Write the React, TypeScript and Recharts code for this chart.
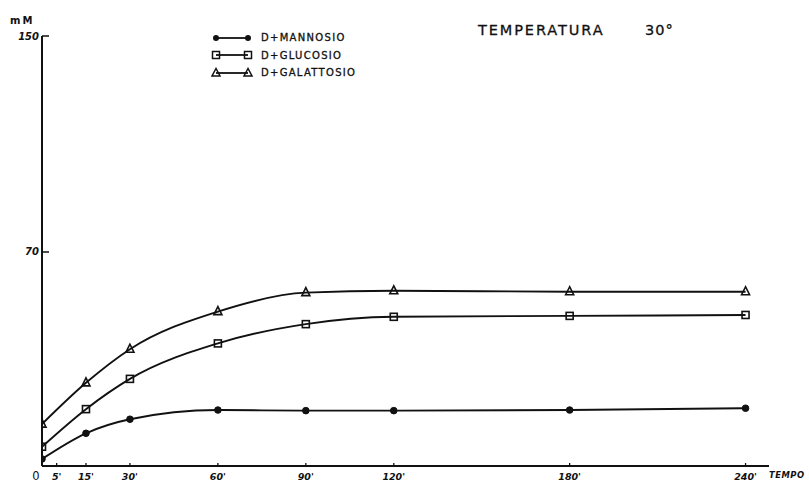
import React from 'react';
import { LineChart, Line, XAxis, YAxis } from 'recharts';

// ---- data (minutes vs mM) ----
const minutes = [0, 15, 30, 60, 90, 120, 180, 240];
const mannosio = [2.3, 10.7, 15.3, 18.3, 18.1, 18.1, 18.3, 18.9];
const glucosio = [6.3, 18.6, 28.5, 40.1, 46.4, 48.8, 49.1, 49.4];
const galattosio = [13.7, 27.2, 38.2, 50.5, 56.7, 57.3, 57.0, 57.0];
const xTicks = [0, 5, 15, 30, 60, 90, 120, 180, 240];
const yTicks = [70, 150];
const seriesNames = ['D+MANNOSIO', 'D+GLUCOSIO', 'D+GALATTOSIO'];
const seriesKeys = ['mannosio', 'glucosio', 'galattosio'];
const title = 'TEMPERATURA';
const titleTemp = '30°';
const yUnit = 'mM';
const xUnit = 'TEMPO';

const data = minutes.map((m, i) => ({
  t: m,
  mannosio: mannosio[i],
  glucosio: glucosio[i],
  galattosio: galattosio[i],
}));

// hand-drawn y axis: the 70 mark is not proportionally placed; piecewise-linear scale
const yKnots = [0, 70, 150];
const yFracs = [0, 0.4977, 1];
function piecewiseScale(): any {
  let dom = [yKnots[0], yKnots[yKnots.length - 1]];
  let rng = [0, 1];
  const s: any = (v: number) => {
    let i = 0;
    while (i < yKnots.length - 2 && v > yKnots[i + 1]) i++;
    const t = yFracs[i] + ((v - yKnots[i]) / (yKnots[i + 1] - yKnots[i])) * (yFracs[i + 1] - yFracs[i]);
    return rng[0] + t * (rng[1] - rng[0]);
  };
  s.domain = (d?: number[]) => {
    if (d === undefined) return dom.slice();
    dom = d.slice();
    return s;
  };
  s.range = (r?: number[]) => {
    if (r === undefined) return rng.slice();
    rng = r.slice();
    return s;
  };
  s.copy = () => piecewiseScale().domain(dom).range(rng);
  s.ticks = () => yKnots.slice();
  s.invert = (px: number) => {
    const t = (px - rng[0]) / (rng[1] - rng[0]);
    let i = 0;
    while (i < yFracs.length - 2 && t > yFracs[i + 1]) i++;
    return yKnots[i] + ((t - yFracs[i]) / (yFracs[i + 1] - yFracs[i])) * (yKnots[i + 1] - yKnots[i]);
  };
  s.clamp = () => s;
  s.nice = () => s;
  return s;
}
const yScale = piecewiseScale();

const INK = '#111';
const FONT = '"DejaVu Sans", sans-serif';
const THICK = { WebkitTextStroke: '0.3px #111' } as React.CSSProperties;

const CircleDot = (p: any) =>
  p.cx == null ? null : <circle key={`c-${p.index}`} cx={p.cx} cy={p.cy} r={3.3} fill={INK} stroke={INK} strokeWidth={1} />;
const SquareDot = (p: any) =>
  p.cx == null ? null : (
    <rect key={`s-${p.index}`} x={p.cx - 3.5} y={p.cy - 3.5} width={7} height={7} fill="none" stroke={INK} strokeWidth={1.6} />
  );
const TriDot = (p: any) =>
  p.cx == null ? null : (
    <path
      key={`t-${p.index}`}
      d={`M${p.cx},${p.cy - 5} L${p.cx - 4},${p.cy + 3} L${p.cx + 4},${p.cy + 3} Z`}
      fill="none"
      stroke={INK}
      strokeWidth={1.6}
    />
  );

const XTick = (p: any) => {
  const v = p.payload.value;
  if (v === 0) {
    return (
      <text x={p.x - 6} y={p.y - 1} dy="0.71em" textAnchor="middle" fontSize={11.5} fontFamily={FONT} fill={INK} style={THICK}>
        0
      </text>
    );
  }
  return (
    <text x={p.x} y={p.y} dy="0.71em" textAnchor="middle" fontSize={9.5} fontStyle="italic" fontWeight="bold" fontFamily={FONT} fill={INK}>
      {`${v}'`}
    </text>
  );
};

const YTick = (p: any) => (
  <text x={p.x} y={p.y} dy="0.35em" textAnchor="end" fontSize={10} fontStyle="italic" fontWeight="bold" fontFamily={FONT} fill={INK}>
    {p.payload.value}
  </text>
);

const legendIcons = [
  (cx: number, cy: number) => <circle cx={cx} cy={cy} r={3} fill={INK} />,
  (cx: number, cy: number) => <rect x={cx - 3.5} y={cy - 3.5} width={7} height={7} fill="none" stroke={INK} strokeWidth={1.5} />,
  (cx: number, cy: number) => (
    <path d={`M${cx},${cy - 4.5} L${cx - 4},${cy + 3} L${cx + 4},${cy + 3} Z`} fill="none" stroke={INK} strokeWidth={1.5} />
  ),
];

const LegendBox = () => (
  <div style={{ position: 'absolute', left: 211, top: 29, fontFamily: FONT }}>
    {seriesNames.map((name, i) => (
      <div key={name} style={{ display: 'flex', alignItems: 'center', height: 17.5 }}>
        <svg width={44} height={12} style={{ display: 'block' }}>
          <line x1={5} y1={6} x2={37} y2={6} stroke={INK} strokeWidth={1.8} />
          {legendIcons[i](5, 6)}
          {legendIcons[i](37, 6)}
        </svg>
        <span style={{ fontSize: 10, letterSpacing: 1.3, color: INK, marginLeft: 6, whiteSpace: 'nowrap', ...THICK }}>{name}</span>
      </div>
    ))}
  </div>
);

export default function App() {
  return (
    <div style={{ position: 'absolute', left: 0, top: 0, width: 809, height: 483, background: '#fff', fontFamily: FONT }}>
      <LineChart width={809} height={483} data={data} margin={{ top: 36, right: 40, bottom: 16, left: 41 }}>
        <XAxis
          dataKey="t"
          type="number"
          domain={[0, 248]}
          ticks={xTicks}
          height={1}
          tickSize={-3}
          tickMargin={10}
          tick={<XTick />}
          axisLine={{ stroke: INK, strokeWidth: 1.8 }}
          tickLine={{ stroke: INK, strokeWidth: 1.3 }}
          allowDataOverflow
        />
        <YAxis
          type="number"
          domain={[0, 150]}
          scale={yScale}
          ticks={yTicks}
          width={1}
          tickSize={-7}
          tickMargin={10}
          tick={<YTick />}
          axisLine={{ stroke: INK, strokeWidth: 2 }}
          tickLine={{ stroke: INK, strokeWidth: 1.5 }}
          allowDataOverflow
        />
        <Line type="monotone" dataKey={seriesKeys[0]} name={seriesNames[0]} stroke={INK} strokeWidth={1.9} dot={CircleDot} isAnimationActive={false} />
        <Line type="monotone" dataKey={seriesKeys[1]} name={seriesNames[1]} stroke={INK} strokeWidth={1.9} dot={SquareDot} isAnimationActive={false} />
        <Line type="monotone" dataKey={seriesKeys[2]} name={seriesNames[2]} stroke={INK} strokeWidth={1.9} dot={TriDot} isAnimationActive={false} />
      </LineChart>
      <LegendBox />
      <div style={{ position: 'absolute', left: 478, top: 22, fontSize: 14.5, letterSpacing: 1.9, color: INK, whiteSpace: 'nowrap', ...THICK }}>{title}</div>
      <div style={{ position: 'absolute', left: 645, top: 22, fontSize: 14.5, letterSpacing: 1, color: INK, whiteSpace: 'nowrap', ...THICK }}>{titleTemp}</div>
      <div style={{ position: 'absolute', left: 10, top: 15, fontSize: 10, letterSpacing: 2, color: INK, fontWeight: 'bold' }}>{yUnit}</div>
      <div style={{ position: 'absolute', left: 769, top: 470, fontSize: 8.4, letterSpacing: 0.5, color: INK, fontStyle: 'italic', fontWeight: 'bold', whiteSpace: 'nowrap' }}>{xUnit}</div>
    </div>
  );
}
